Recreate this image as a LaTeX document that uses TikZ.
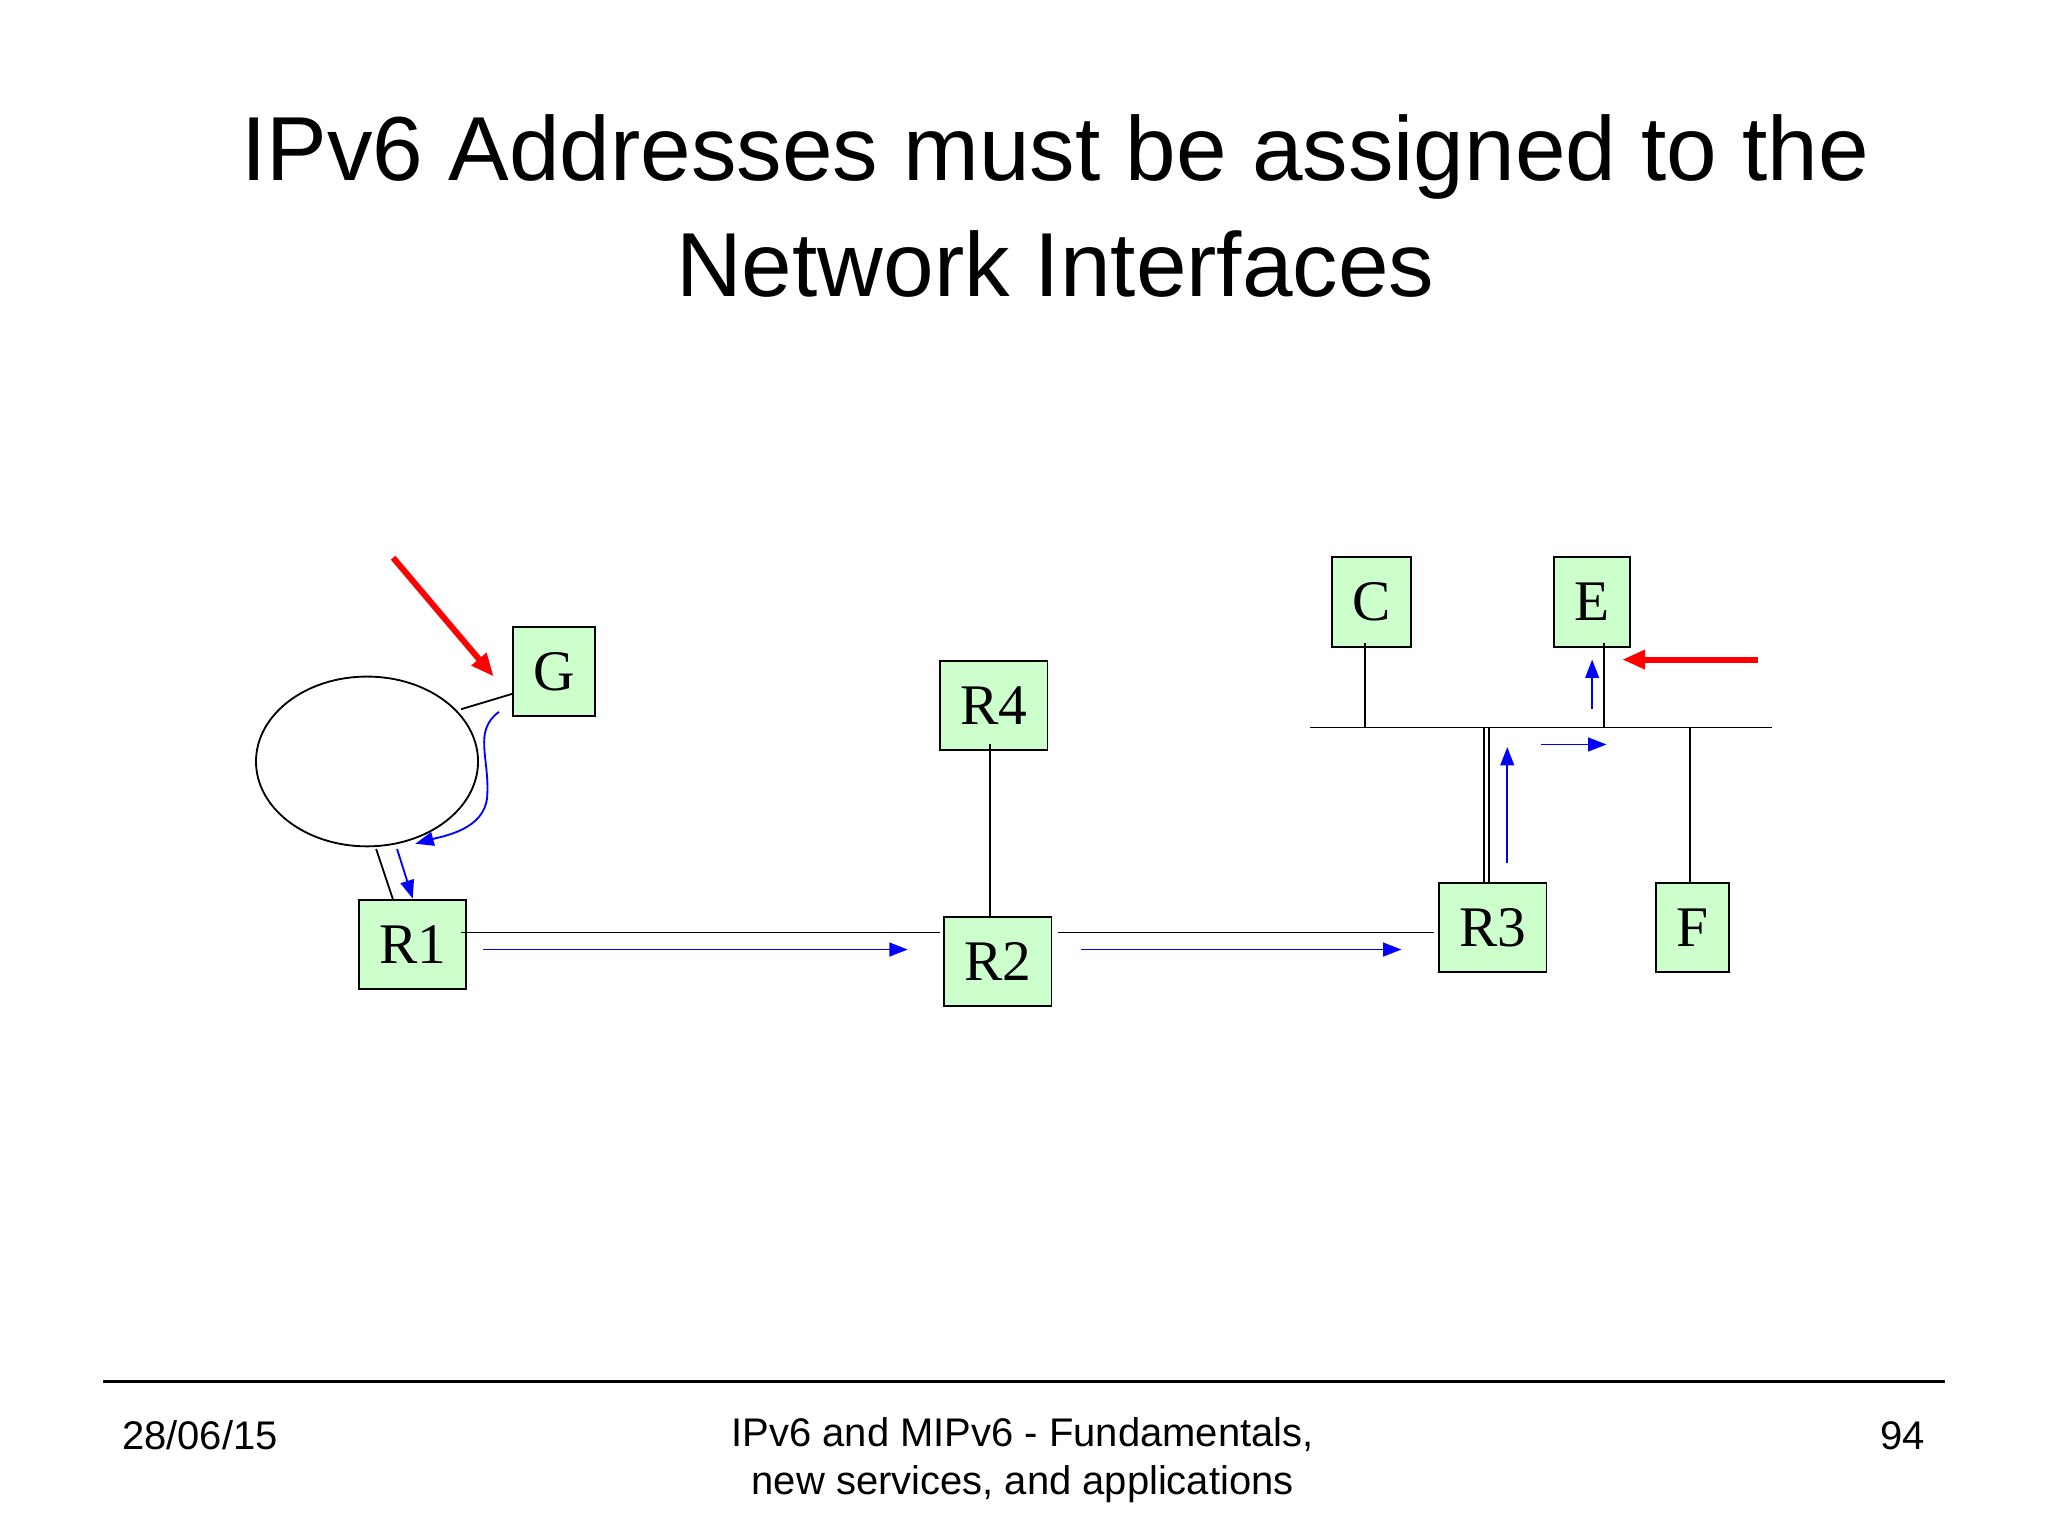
\documentclass[tikz,border=0pt]{standalone}
\usepackage{fontspec}
\setmainfont{Liberation Sans}
\newfontfamily\serifnode{Liberation Serif}
\usetikzlibrary{arrows.meta}
\begin{document}
\begin{tikzpicture}[x=0.01cm,y=-0.01cm,
  box/.style={draw,fill=green!20,line width=0.4pt,inner sep=0,font=\serifnode\fontsize{12.5}{14}\selectfont},
  lnk/.style={line width=0.4pt},
  flow/.style={blue,line width=0.4pt,-{Triangle[length=4pt,width=3pt]}},
  ptr/.style={red,line width=1.3pt,-{Triangle[length=5pt,width=4pt]}}]
\useasboundingbox (0,0) rectangle (1568,1176);
\fill[white] (0,0) rectangle (1568,1176);
\node[font=\fontsize{19.8}{22}\selectfont] (t1) at (808,120) {IPv6 Addresses must be assigned to the};
\node[font=\fontsize{19.8}{22}\selectfont] (t2) at (808,202) {Network Interfaces};
\node[box,minimum width=0.63cm,minimum height=0.68cm] (G) at (424,514) {G};
\node[box,minimum width=0.82cm,minimum height=0.68cm] (R4) at (761,540) {R4};
\node[box,minimum width=0.60cm,minimum height=0.69cm] (C) at (1050,461) {C};
\node[box,minimum width=0.58cm,minimum height=0.69cm] (E) at (1219,461) {E};
\node[box,minimum width=0.82cm,minimum height=0.68cm] (R1) at (316,723) {R1};
\node[box,minimum width=0.82cm,minimum height=0.68cm] (R2) at (764,736) {R2};
\node[box,minimum width=0.82cm,minimum height=0.68cm] (R3) at (1143,710) {R3};
\node[box,minimum width=0.56cm,minimum height=0.68cm] (F) at (1296,710) {F};
\draw[lnk] (281,583) ellipse [x radius=85,y radius=65];
\coordinate (b1) at (1003,557); \coordinate (b2) at (1357,557);
\draw[lnk] (b1)--(b2);
\draw[lnk] (353,543)--(393,531);
\draw[lnk] (288,650)--(301,689);
\draw[lnk] (353,714)--(720,714);
\draw[lnk] (810,714)--(1098,714);
\draw[lnk] (758,570)--(758,702);
\draw[lnk] (1045,492)--(1045,557);
\draw[lnk] (1228,492)--(1228,557);
\draw[lnk] (1294,557)--(1294,676);
\draw[lnk] (1136,557)--(1136,676);
\draw[lnk] (1140,557)--(1140,676);
\draw[flow] (370,727)--(695,727);
\draw[flow] (828,727)--(1073,727);
\draw[flow] (1154,661)--(1154,572);
\draw[flow] (1180,570)--(1230,570);
\draw[flow] (1219,543)--(1219,505);
\draw[flow] (304,650)--(316,688);
\draw[flow] (382,545) .. controls (362,560) and (375,580) .. (373,610) .. controls (371,635) and (340,640) .. (318,646);
\draw[ptr] (301,427)--(378,518);
\draw[ptr] (1346,505)--(1242,505);
\draw[line width=0.6pt] (79,1058)--(1489,1058);
\node[anchor=west,font=\fontsize{8.7}{10.5}\selectfont] (d) at (81,1099) {28/06/15};
\node[align=center,font=\fontsize{8.7}{10.5}\selectfont] (f) at (783,1118) {IPv6 and MIPv6 - Fundamentals,\\new services, and applications};
\node[anchor=east,font=\fontsize{8.7}{10.5}\selectfont] (p) at (1486,1099) {94};
\end{tikzpicture}
\end{document}
